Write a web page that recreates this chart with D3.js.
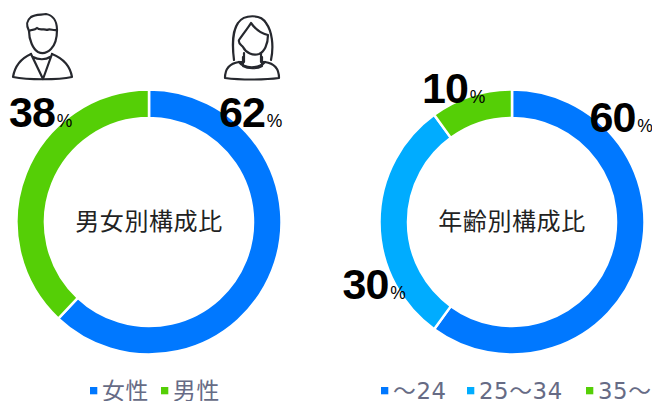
<!DOCTYPE html>
<html lang="ja"><head><meta charset="utf-8">
<script src="https://cdn.jsdelivr.net/npm/d3@7/dist/d3.min.js"></script>
<style>html,body{margin:0;padding:0;background:#fff}svg{display:block}</style>
</head><body><svg id="c" width="652" height="401"></svg>
<script>
const genderCats=["女性","男性"];
const genderVals=[62,38];
const genderColors=["#0078ff","#55cf06"];
const ageCats=["～24","25～34","35～"];
const ageVals=[60,30,10];
const ageColors=["#0078ff","#00acff","#55cf06"];
const titles=["男女別構成比","年齢別構成比"];
const svg=d3.select("#c");
const pie=d3.pie().sort(null);
const arc=d3.arc().innerRadius(104).outerRadius(132.5);
function donut(cx,cy,vals,cols,title){
  const g=svg.append("g").attr("transform",`translate(${cx},${cy})`);
  g.selectAll("path").data(pie(vals)).join("path").attr("d",arc)
    .attr("fill",(d,i)=>cols[i]).attr("stroke","#fff").attr("stroke-width",2.5);
  g.append("text").attr("text-anchor","middle").attr("dy",8).attr("font-size",24).attr("letter-spacing",.6)
    .attr("font-family","'Noto Sans CJK JP'").attr("fill","#222").text(title);
}
donut(149,222,genderVals,genderColors,titles[0]);
donut(512,222,ageVals,ageColors,titles[1]);
function label(x,y,v){
  const t=svg.append("text").attr("x",x).attr("y",y).attr("fill","#000");
  t.append("tspan").attr("font-family","'Liberation Sans',sans-serif").attr("font-weight",700).attr("font-size",43).attr("letter-spacing",-1).text(v);
  t.append("tspan").attr("font-family","'Liberation Sans',sans-serif").attr("font-size",17.5).attr("dx",2).text("%");
}
label(9,126.5,genderVals[1]);
label(219,126.5,genderVals[0]);
label(589.5,132,ageVals[0]);
label(342.5,298.5,ageVals[1]);
label(422,103,ageVals[2]);
function legend(y,xs,cats,cols){
  cats.forEach((c,i)=>{
    svg.append("rect").attr("x",xs[i]).attr("y",y-4).attr("width",7.3).attr("height",7.3).attr("fill",cols[i]);
    svg.append("text").attr("x",xs[i]+12).attr("y",y+8).attr("font-size",22.8).attr("letter-spacing",.6).attr("fill","#666b85")
      .attr("font-family","'DejaVu Sans','Noto Sans CJK JP'").text(c);
  });
}
legend(391,[90,161],genderCats,genderColors);
legend(391,[381,467,586],ageCats,ageColors);
const ink="#26282e";
const man=svg.append("g").attr("fill","none").attr("stroke",ink).attr("stroke-width",2.2).attr("stroke-linecap","round").attr("stroke-linejoin","round");
man.append("path").attr("d","M29 31C29 40 33 49 38 52C42 54 47 53 51 49C55 45 57 38 57 30");
man.append("path").attr("d","M29 31C26 25 26 21 31 17C35 14 42 15 46 14C52 15 57 20 57 30C53 31 50 28 47 30C44 28 40 31 37 28C34 31 32 29 29 31Z");
man.append("path").attr("d","M31 54C22 58 15 65 13 77C28 80 58 80 72 77C70 65 62 58 52 54");
man.append("path").attr("d","M31 54L43 79L52 54M33 57C38 60 46 60 50 57");
const woman=svg.append("g").attr("fill","none").attr("stroke",ink).attr("stroke-width",2.2).attr("stroke-linecap","round").attr("stroke-linejoin","round");
woman.append("path").attr("d","M234 60C232 45 233 30 238 23C244 14 261 14 266 23C272 31 274 46 271 60");
woman.append("path").attr("d","M239 40C243 34 248 28 251 23C256 30 262 34 268 35C268 45 264 52 259 54C253 56 246 53 243 47C240 44 238 43 239 40Z");
woman.append("path").attr("d","M244 53L244 62L239 62C232 63 225 66 225 78C240 80 265 80 279 78C279 66 272 63 265 62L261 62L261 53");
woman.append("path").attr("d","M239 62C244 69 259 69 265 62M243 57L243 66C248 69 257 69 262 66L262 57");
</script></body></html>
